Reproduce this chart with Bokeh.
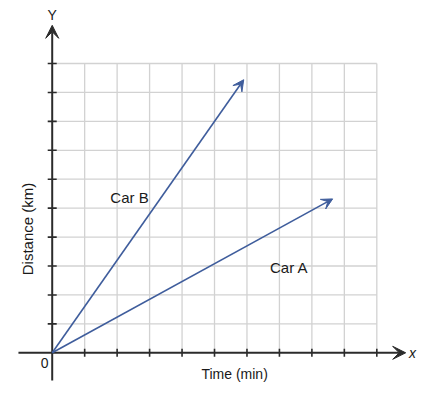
import math
from bokeh.plotting import figure
from bokeh.models import Range1d, Arrow, VeeHead, Label, ColumnDataSource
from bokeh.embed import file_html
from bokeh.resources import INLINE

# ---- data ----
time_ticks = [1, 2, 3, 4, 5, 6, 7, 8, 9, 10]
distance_ticks = [1, 2, 3, 4, 5, 6, 7, 8, 9, 10]
car_names = ["Car A", "Car B"]
car_end_time = [8.64, 5.90]
car_end_distance = [5.32, 9.44]
car_label_time = [7.30, 2.38]
car_label_distance = [2.95, 5.37]
x_label = "Time (min)"
y_label = "Distance (km)"

FONT = "Liberation Sans"
AXIS_COLOR = "#2b2b2b"
LINE_COLOR = "#3f5d9c"
GRID_COLOR = "#d2d2d2"

p = figure(width=430, height=395, output_backend="svg", toolbar_location=None,
           x_range=Range1d(-1.593, 11.654), y_range=Range1d(-1.476, 12.178),
           min_border=0, outline_line_color=None)
p.axis.visible = False
p.grid.visible = False

xmax = max(time_ticks)
ymax = max(distance_ticks)

# grid
p.segment(x0=time_ticks, y0=[0] * len(time_ticks), x1=time_ticks, y1=[ymax] * len(time_ticks),
          line_color=GRID_COLOR, line_width=1.3)
p.segment(x0=[0] * len(distance_ticks), y0=distance_ticks, x1=[xmax] * len(distance_ticks), y1=distance_ticks,
          line_color=GRID_COLOR, line_width=1.3)

# axes with arrows
p.add_layout(Arrow(x_start=-1.04, y_start=0, x_end=10.89, y_end=0,
                   line_color=AXIS_COLOR, line_width=2,
                   end=VeeHead(size=13, fill_color=AXIS_COLOR, line_color=AXIS_COLOR)))
p.add_layout(Arrow(x_start=0, y_start=-0.96, x_end=0, y_end=11.32,
                   line_color=AXIS_COLOR, line_width=2,
                   end=VeeHead(size=13, fill_color=AXIS_COLOR, line_color=AXIS_COLOR)))

# tick marks
p.scatter(x=time_ticks, y=[0] * len(time_ticks), marker="dash", size=8, angle=math.pi / 2,
          line_color=AXIS_COLOR, line_width=1.6)
p.scatter(x=[0] * len(distance_ticks), y=distance_ticks, marker="dash", size=9,
          line_color=AXIS_COLOR, line_width=1.6)

# car lines
src = ColumnDataSource(dict(x0=[0] * len(car_names), y0=[0] * len(car_names),
                            x1=car_end_time, y1=car_end_distance))
p.add_layout(Arrow(source=src, x_start="x0", y_start="y0", x_end="x1", y_end="y1",
                   line_color=LINE_COLOR, line_width=1.6,
                   end=VeeHead(size=11, fill_color=LINE_COLOR, line_color=LINE_COLOR)))

# labels
for name, lx, ly in zip(car_names, car_label_time, car_label_distance):
    p.add_layout(Label(x=lx, y=ly, text=name, text_align="center", text_baseline="middle",
                       text_font=FONT, text_font_size="15px", text_color="#1a1a1a"))

p.add_layout(Label(x=5.62, y=-0.75, text=x_label, text_align="center", text_baseline="middle",
                   text_font=FONT, text_font_size="14px", text_color="#1a1a1a"))
p.add_layout(Label(x=-0.76, y=4.28, text=y_label, text_align="center", text_baseline="middle",
                   angle=math.pi / 2, text_font=FONT, text_font_size="15px", text_color="#1a1a1a"))
p.add_layout(Label(x=-0.23, y=-0.36, text="0", text_align="center", text_baseline="middle",
                   text_font=FONT, text_font_size="14px", text_color="#1a1a1a"))
p.add_layout(Label(x=0, y=11.68, text="Y", text_align="center", text_baseline="middle",
                   text_font=FONT, text_font_size="14px", text_color="#1a1a1a"))
p.add_layout(Label(x=11.10, y=0.01, text="x", text_align="center", text_baseline="middle",
                   text_font=FONT, text_font_style="italic", text_font_size="14px", text_color="#1a1a1a"))

open("out.html", "w").write(file_html(p, INLINE))
